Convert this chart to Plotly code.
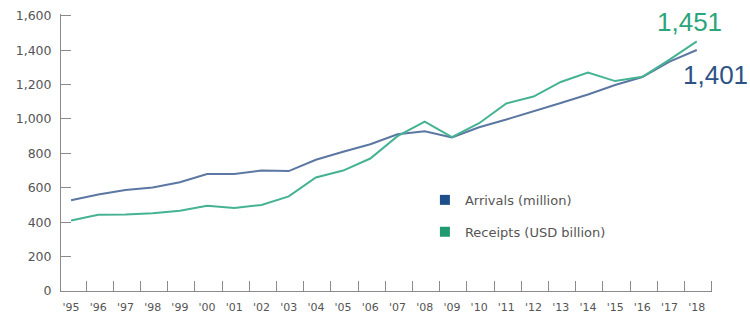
import plotly.graph_objects as go

years = list(range(1995, 2019))
year_labels = ["'95", "'96", "'97", "'98", "'99", "'00", "'01", "'02", "'03", "'04", "'05", "'06",
               "'07", "'08", "'09", "'10", "'11", "'12", "'13", "'14", "'15", "'16", "'17", "'18"]
arrivals = [527, 561, 587, 602, 632, 680, 680, 700, 697, 763, 809, 853,
            911, 928, 893, 952, 997, 1043, 1093, 1142, 1197, 1244, 1333, 1401]
receipts = [410, 443, 445, 452, 467, 495, 482, 500, 550, 660, 700, 770,
            900, 985, 895, 975, 1090, 1130, 1215, 1270, 1220, 1245, 1345, 1451]
series_names = ["Arrivals (million)", "Receipts (USD billion)"]
y_ticks = [0, 200, 400, 600, 800, 1000, 1200, 1400, 1600]

BLUE_LINE = "#5b77a2"
GREEN_LINE = "#45b393"
BLUE_DARK = "#1f4f8a"
GREEN_DARK = "#1f9a70"
AXIS = "#8a8a8a"
TXT = "#555555"
FONT = "DejaVu Sans, Liberation Sans, sans-serif"
BIG = "Liberation Sans, Arial, sans-serif"

fig = go.Figure()
fig.add_trace(go.Scatter(x=years, y=arrivals, mode="lines", line=dict(color=BLUE_LINE, width=2),
                         showlegend=False, hoverinfo="skip"))
fig.add_trace(go.Scatter(x=years, y=receipts, mode="lines", line=dict(color=GREEN_LINE, width=2),
                         showlegend=False, hoverinfo="skip"))
# legend swatches
fig.add_trace(go.Scatter(x=[None], y=[None], mode="markers", name=series_names[0], legendgroup="a",
                         marker=dict(symbol="square", size=10, color=BLUE_DARK)))
fig.add_trace(go.Scatter(x=[None], y=[None], mode="markers", name=series_names[1], legendgroup="b",
                         marker=dict(symbol="square", size=10, color=GREEN_DARK)))

fig.add_annotation(x=years[-1], y=receipts[-1], text=f"{receipts[-1]:,}", showarrow=False,
                   xanchor="center", yanchor="middle", xshift=-7, yshift=19,
                   font=dict(size=26, color="#2aa57c", family=BIG))
fig.add_annotation(x=years[-1], y=arrivals[-1], text=f"{arrivals[-1]:,}", showarrow=False,
                   xanchor="center", yanchor="middle", xshift=19, yshift=-25,
                   font=dict(size=26, color="#2d5386", family=BIG))

fig.update_layout(
    width=750, height=319,
    margin=dict(l=61, r=38, t=14, b=28),
    paper_bgcolor="white", plot_bgcolor="white",
    font=dict(family=FONT, size=12, color=TXT),
    legend=dict(x=0.559, y=0.383, xanchor="left", yanchor="top", bgcolor="rgba(0,0,0,0)",
                tracegroupgap=12, font=dict(size=13, color=TXT, family=FONT)),
    xaxis=dict(range=[1994.63, 2018.56], tickmode="array", tickvals=years, ticktext=year_labels,
               ticks="", showgrid=False, zeroline=False, showline=True, linecolor=AXIS, linewidth=1,
               automargin=False, ticklabelstandoff=6, tickfont=dict(size=11, color=TXT, family=FONT),
               minor=dict(tickmode="array", tickvals=[y + 0.55 for y in years], ticks="inside",
                          ticklen=10, tickcolor=AXIS, tickwidth=1, showgrid=False)),
    yaxis=dict(range=[0, 1610], tickmode="array", tickvals=y_ticks, tickformat=",",
               ticks="inside", ticklen=10, tickcolor=AXIS, tickwidth=1,
               showgrid=False, zeroline=False, showline=True, linecolor=AXIS, linewidth=1,
               automargin=False, ticklabelstandoff=6, tickfont=dict(size=12.5, color=TXT, family=FONT)),
)

fig.write_html("out.html", config={"displayModeBar": False})

# remove the default page margin so the figure sits at the window's top-left corner
with open("out.html", "r", encoding="utf-8") as f:
    html = f.read()
html = html.replace("<body>", '<body style="margin:0;padding:0;overflow:hidden">', 1)
with open("out.html", "w", encoding="utf-8") as f:
    f.write(html)
